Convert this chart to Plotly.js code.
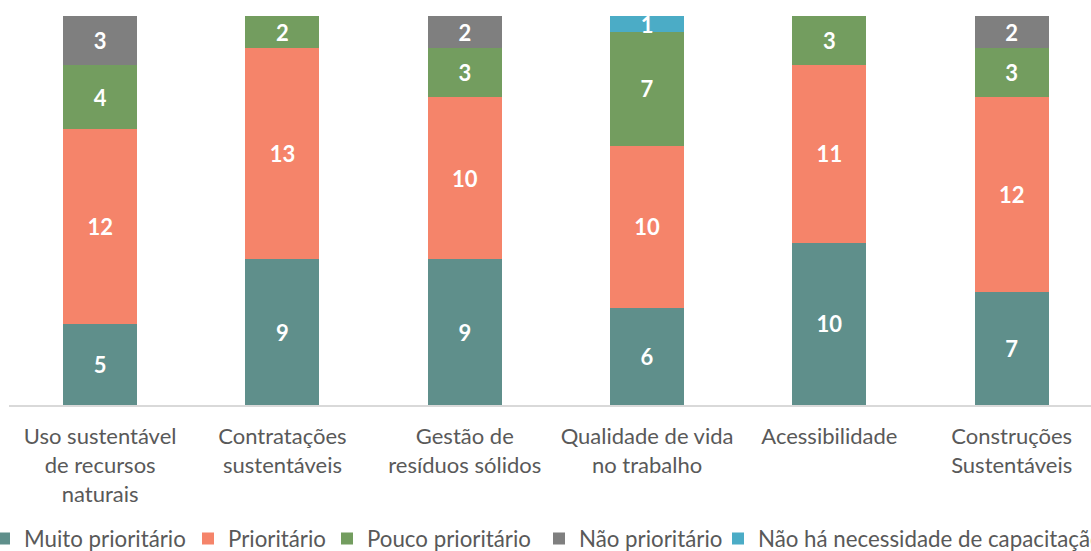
<!DOCTYPE html>
<html>
<head>
<meta charset="utf-8">
<script src="https://cdn.plot.ly/plotly-3.0.1.min.js"></script>
<style>html,body{margin:0;padding:0;background:#fff;overflow:hidden}#chart{width:1091px;height:551px}</style>
</head>
<body>
<div id="chart"></div>
<script>
const categories = [
  "Uso sustentável<br>de recursos<br>naturais",
  "Contratações<br>sustentáveis",
  "Gestão de<br>resíduos sólidos",
  "Qualidade de vida<br>no trabalho",
  "Acessibilidade",
  "Construções<br>Sustentáveis"
];
const seriesNames = ["Muito prioritário", "Prioritário", "Pouco prioritário", "Não prioritário", "Não há necessidade de capacitação"];
const muitoPrioritario = [5, 9, 9, 6, 10, 7];
const prioritario = [12, 13, 10, 10, 11, 12];
const poucoPrioritario = [4, 2, 3, 7, 3, 3];
const naoPrioritario = [3, 0, 2, 0, 0, 2];
const naoHaNecessidade = [0, 0, 0, 1, 0, 0];
const colors = ["#5F8F8B", "#F5846A", "#739D5F", "#7F7F7F", "#4BACC6"];

const allSeries = [muitoPrioritario, prioritario, poucoPrioritario, naoPrioritario, naoHaNecessidade];
const FONT = "Lato, 'Noto Sans', sans-serif";
// legend block left edges, in page pixels
const legendLeftPx = [-16, 188, 327, 539, 718];
const M = {l: 9, r: 0, t: 16, b: 146};
const plotW = 1091 - M.l - M.r, plotH = 551 - M.t - M.b;

const traces = allSeries.map((vals, i) => ({
  type: "bar",
  name: seriesNames[i],
  legend: i === 0 ? "legend" : "legend" + (i + 1),
  x: categories,
  y: vals.map(v => v === 0 ? null : v),
  text: vals.map(v => v > 0 ? String(v) : ""),
  textposition: "inside",
  insidetextanchor: "middle",
  textangle: 0,
  constraintext: "none",
  textfont: {family: FONT, size: 22, color: "#ffffff", weight: "bold"},
  marker: {color: colors[i], line: {width: 0}},
  width: 0.406,
  hoverinfo: "skip"
}));

const legendBase = {
  orientation: "h",
  xref: "paper", yref: "paper",
  xanchor: "left",
  y: (551 - M.b - 538.5) / plotH, yanchor: "middle",
  font: {family: FONT, size: 22.3, color: "#595959"},
  bgcolor: "rgba(0,0,0,0)",
  borderwidth: 0,
  itemclick: false
};

const layout = {
  width: 1091, height: 551,
  margin: Object.assign({autoexpand: false}, M),
  barmode: "stack",
  paper_bgcolor: "#ffffff",
  plot_bgcolor: "#ffffff",
  font: {family: FONT, color: "#595959", size: 22},
  xaxis: {
    type: "category",
    range: [-0.5, 5.435],
    showline: true, linecolor: "#D9D9D9", linewidth: 2,
    showgrid: false, zeroline: false, ticks: "",
    ticklabelstandoff: 11,
    tickfont: {family: FONT, size: 22, color: "#595959"}
  },
  yaxis: {
    range: [0, 24],
    visible: false, showgrid: false, zeroline: false
  },
  showlegend: true
};
legendLeftPx.forEach((px, i) => {
  const key = i === 0 ? "legend" : "legend" + (i + 1);
  layout[key] = Object.assign({}, legendBase, {x: (px - M.l) / plotW});
});

Plotly.newPlot("chart", traces, layout, {staticPlot: true, displayModeBar: false});
</script>
</body>
</html>
